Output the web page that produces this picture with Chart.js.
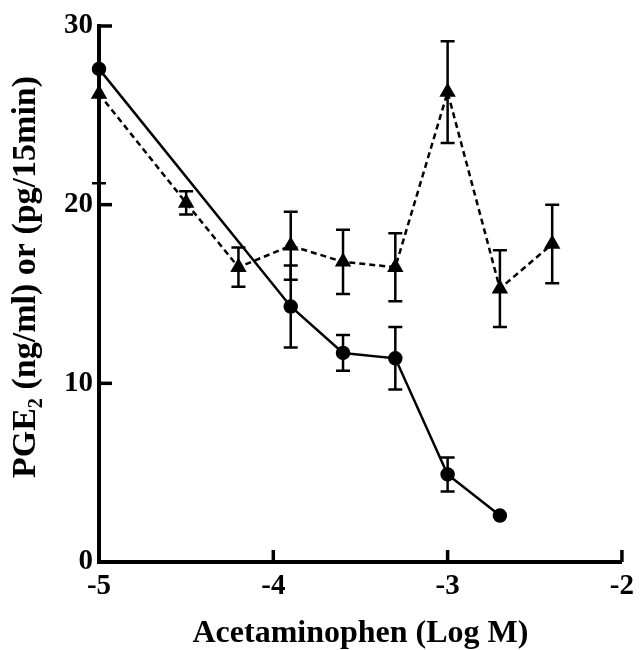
<!DOCTYPE html>
<html>
<head>
<meta charset="utf-8">
<script src="https://cdn.jsdelivr.net/npm/chart.js@4.4.0/dist/chart.umd.min.js"></script>
<style>
  html, body { margin: 0; padding: 0; background: #fff; }
  #wrap { width: 641px; height: 650px; }
</style>
</head>
<body>
<div id="wrap"><canvas id="canvas" width="641" height="650"></canvas></div>
<script>
// ---- data (x = acetaminophen, log M) ----
var circleX   = [-5, -3.9, -3.6, -3.3, -3.0, -2.7];
var circleY   = [27.6, 14.3, 11.7, 11.4, 4.9, 2.6];
var circleErr = [6.4, 2.3, 1.0, 1.75, 0.95, 0];

var triX   = [-5, -4.5, -4.2, -3.9, -3.6, -3.3, -3.0, -2.7, -2.4];
var triY   = [26.2, 20.1, 16.5, 17.7, 16.8, 16.5, 26.3, 15.3, 17.8];
var triErr = [0, 0.65, 1.1, 1.9, 1.8, 1.9, 2.85, 2.15, 2.2];

var xTicks = [-5, -4, -3, -2];
var yTicks = [0, 10, 20, 30];

var xTitle = "Acetaminophen (Log M)";
// leading nbsp's nudge the rotated title up a little
var yTitle = "\u00a0\u00a0\u00a0\u00a0PGE\u2082 (ng/ml) or (pg/15min)";

function pairs(xs, ys) {
  var out = [];
  for (var i = 0; i < xs.length; i++) out.push({x: xs[i], y: ys[i]});
  return out;
}

var FONT = "'Liberation Serif', 'Times New Roman', serif";

// error bars, drawn through the scales
var errorBarPlugin = {
  id: 'errorBars',
  afterDatasetsDraw: function(chart) {
    var ctx = chart.ctx, xs = chart.scales.x, ys = chart.scales.y;
    var area = chart.chartArea;
    ctx.save();
    ctx.beginPath();
    ctx.rect(0, area.top - 2, chart.width, area.bottom - area.top + 4);
    ctx.clip();
    ctx.strokeStyle = '#000';
    ctx.lineWidth = 2.5;
    chart.data.datasets.forEach(function(ds) {
      if (!ds.errors) return;
      ds.data.forEach(function(p, i) {
        var e = ds.errors[i];
        if (!e) return;
        var px = xs.getPixelForValue(p.x);
        var top = ys.getPixelForValue(p.y + e);
        var bot = ys.getPixelForValue(p.y - e);
        ctx.beginPath();
        ctx.moveTo(px, top); ctx.lineTo(px, bot);
        ctx.moveTo(px - 7, top); ctx.lineTo(px + 7, top);
        ctx.moveTo(px - 7, bot); ctx.lineTo(px + 7, bot);
        ctx.stroke();
      });
    });
    ctx.restore();
  }
};

// tick marks pointing into the plot
var innerTicksPlugin = {
  id: 'innerTicks',
  afterDraw: function(chart) {
    var ctx = chart.ctx, xs = chart.scales.x, ys = chart.scales.y;
    var area = chart.chartArea;
    ctx.save();
    ctx.strokeStyle = '#000';
    ctx.lineWidth = 3.5;
    yTicks.forEach(function(v) {
      if (v === yTicks[0]) return;
      var py = ys.getPixelForValue(v);
      ctx.beginPath(); ctx.moveTo(area.left, py); ctx.lineTo(area.left + 13, py); ctx.stroke();
    });
    xTicks.forEach(function(v) {
      if (v === xTicks[0]) return;
      var px = xs.getPixelForValue(v);
      ctx.beginPath(); ctx.moveTo(px, area.bottom); ctx.lineTo(px, area.bottom - 12); ctx.stroke();
    });
    ctx.restore();
  }
};

new Chart(document.getElementById('canvas'), {
  type: 'line',
  data: {
    datasets: [
      {
        label: 'circles',
        data: pairs(circleX, circleY),
        errors: circleErr,
        borderColor: '#000',
        backgroundColor: '#000',
        borderWidth: 2.5,
        pointStyle: 'circle',
        pointRadius: 6,
        pointBackgroundColor: '#000',
        pointBorderColor: '#000',
        tension: 0,
        clip: false
      },
      {
        label: 'triangles',
        data: pairs(triX, triY),
        errors: triErr,
        borderColor: '#000',
        backgroundColor: '#000',
        borderWidth: 2.5,
        borderDash: [6, 4],
        pointStyle: 'triangle',
        pointRadius: 7,
        pointBackgroundColor: '#000',
        pointBorderColor: '#000',
        tension: 0,
        clip: false
      }
    ]
  },
  options: {
    responsive: false,
    animation: false,
    layout: { padding: { top: 26, right: 15, left: 0, bottom: 0 } },
    plugins: { legend: { display: false }, tooltip: { enabled: false } },
    scales: {
      x: {
        type: 'linear',
        min: xTicks[0], max: xTicks[xTicks.length - 1],
        afterBuildTicks: function(s) { s.ticks = xTicks.map(function(v) { return {value: v}; }); },
        afterFit: function(s) { s.height = 88; },
        grid: { display: true, color: 'rgba(0,0,0,0)', drawTicks: false },
        border: { display: true, color: '#000', width: 4 },
        ticks: {
          color: '#000', padding: 7,
          font: { family: FONT, size: 29, weight: 'bold' },
          callback: function(v) { return String(v); }
        },
        title: {
          display: true, text: xTitle, color: '#000',
          padding: { top: 0, bottom: 0 },
          font: { family: FONT, size: 32, weight: 'bold', lineHeight: 1 }
        }
      },
      y: {
        type: 'linear',
        min: yTicks[0], max: yTicks[yTicks.length - 1],
        afterBuildTicks: function(s) { s.ticks = yTicks.map(function(v) { return {value: v}; }); },
        afterFit: function(s) { s.width = 99; },
        grid: { display: true, color: 'rgba(0,0,0,0)', drawTicks: false },
        border: { display: true, color: '#000', width: 4 },
        ticks: {
          color: '#000', padding: 6,
          font: { family: FONT, size: 29, weight: 'bold' },
          callback: function(v) { return String(v); }
        },
        title: {
          display: true, text: yTitle, color: '#000',
          padding: { top: 9, bottom: 0 },
          font: { family: FONT, size: 34, weight: 'bold', lineHeight: 1 }
        }
      }
    }
  },
  plugins: [errorBarPlugin, innerTicksPlugin]
});
</script>
</body>
</html>
